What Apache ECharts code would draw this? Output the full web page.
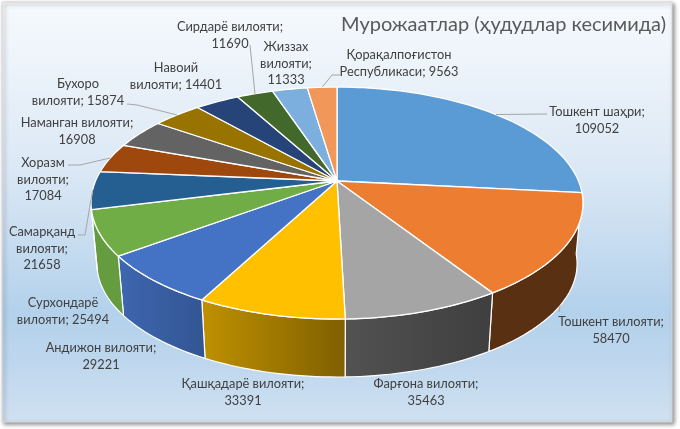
<!DOCTYPE html>
<html><head><meta charset="utf-8">
<style>html,body{margin:0;padding:0;background:#fff}#c{width:680px;height:429px}</style>
<script src="https://cdn.jsdelivr.net/npm/echarts@6/dist/echarts.min.js"></script>
</head><body><div id="c"></div>
<script>
const categories = ["Тошкент шаҳри","Тошкент вилояти","Фарғона вилояти","Қашқадарё вилояти","Андижон вилояти","Сурхондарё вилояти","Самарқанд вилояти","Хоразм вилояти","Наманган вилояти","Бухоро вилояти","Навоий вилояти","Сирдарё вилояти","Жиззах вилояти","Қорақалпоғистон Республикаси"];
const values = [109052,58470,35463,33391,29221,25494,21658,17084,16908,15874,14401,11690,11333,9563];
const colors = ["#5B9BD5","#ED7D31","#A5A5A5","#FFC000","#4472C4","#70AD47","#255E91","#9E480E","#636363","#997300","#264478","#43682B","#7CAFDD","#F1975A"];
const titleText = "Мурожаатлар (ҳудудлар кесимида)";
// label layout: text centre, words per line, optional elbow of the leader line
const labelX = [597,611,426,243,101,63,42,43,77,78,176,230,286,399];
const labelY = [112,322,384,384,348,303,232,163,123,84,68,27,47,55];
const labelLines = [[2,1],[2,1],[2,1],[2,1],[2,1],[1,2],[1,1,1],[1,1,1],[2,1],[1,2],[1,2],[2,1],[1,1,1],[1,2]];
const leaderFrom = [[547,114],[559,312],null,null,null,null,[78,235],[68,165],null,[127,104],null,[250,45],null,[340,75]];
const leaderElbow = [null,null,null,null,null,null,[85,235],[80,165],null,[137,105],null,null,null,[332,75]];

const total = values.reduce((a,b)=>a+b,0);
const cum = []; values.reduce((s,v,i)=>(cum[i]=s,s+v),0);
const FONT = 'Lato, "Open Sans", sans-serif';
const CX=337, CY=181, A=241.5, B=111.8, K=0.19, BY=242.3, BS=0.976;
const rad=d=>d*Math.PI/180;
const topPt=t=>{const u=Math.sin(t),v=Math.cos(t),w=1+K*v;return [CX+A*u/w,CY-B*v/w];};
const botPt=t=>{const u=Math.sin(t),v=Math.cos(t),w=1+K*v;return [CX+BS*A*u/w,BY-BS*B*v/w];};
const FRONT0=rad(96), FRONT1=rad(256);
function shade(x){const P=[[120,.9],[202,.75],[345,.5],[490,.38],[700,.38]];
  if(x<=P[0][0])return P[0][1];
  for(let i=1;i<P.length;i++) if(x<=P[i][0]) return P[i-1][1]+(P[i][1]-P[i-1][1])*(x-P[i-1][0])/(P[i][0]-P[i-1][0]);
  return .38;}
function dark(hex,f){const n=parseInt(hex.slice(1),16);return `rgb(${Math.round((n>>16&255)*f)},${Math.round((n>>8&255)*f)},${Math.round((n&255)*f)})`;}
function range(i){const a=cum[i]/total*2*Math.PI,b=(cum[i]+values[i])/total*2*Math.PI;return [a,b];}
function arc(a,b,fn){const n=Math.max(2,Math.ceil((b-a)/rad(1.5)));const o=[];for(let k=0;k<=n;k++)o.push(fn(a+(b-a)*k/n));return o;}

function renderTop(p,api){const i=p.dataIndex,[a,b]=range(i);
  return {type:'polygon',shape:{points:[[CX,CY]].concat(arc(a,b,topPt))},
    style:{fill:colors[i],stroke:'#fff',lineWidth:1.3,lineJoin:'round'}};}
function renderWall(p,api){const i=p.dataIndex;let [a,b]=range(i);
  a=Math.max(a,FRONT0);b=Math.min(b,FRONT1);if(b<=a)return null;
  const t=arc(a,b,topPt),d=arc(a,b,botPt).reverse();const pts=t.concat(d);
  const xs=pts.map(q=>q[0]),x0=Math.min(...xs),x1=Math.max(...xs);
  const stops=[0,.25,.5,.75,1].map(o=>({offset:o,color:dark(colors[i],shade(x0+(x1-x0)*o))}));
  return {type:'polygon',shape:{points:pts},
    style:{fill:new echarts.graphic.LinearGradient(0,0,1,0,stops),stroke:'#fff',lineWidth:1.2,lineJoin:'round'}};}
function renderLabel(p,api){const i=p.dataIndex;
  const words=(categories[i]+"; "+api.value(0)).split(" ");let o=0;
  const text=labelLines[i].map(n=>{const s=words.slice(o,o+n).join(" ");o+=n;return s;}).join("\n");
  const ch=[{type:'text',style:{text,x:labelX[i],y:labelY[i]-8,align:'center',verticalAlign:'top',
    font:'12.8px '+FONT,fill:'#404040',lineHeight:16.5}}];
  if(leaderFrom[i]){const [a,b]=range(i);const m=(a+b)/2;
    const end=(m>FRONT0&&m<FRONT1)?botPt(m):topPt(m);
    const pts=[leaderFrom[i]];if(leaderElbow[i])pts.push(leaderElbow[i]);pts.push(end);
    ch.push({type:'polyline',shape:{points:pts},style:{fill:'none',stroke:'#a6a6a6',lineWidth:1}});}
  return {type:'group',children:ch};}

const data=values.map(v=>[v]);
const chart=echarts.init(document.getElementById('c'));
chart.setOption({animation:false,
  graphic:[
   {type:'rect',z:-1,shape:{x:2,y:2,width:670,height:420},
    style:{fill:new echarts.graphic.LinearGradient(0,0,0,1,[
      {offset:0,color:'#f7fafd'},{offset:.4,color:'#dbe8f5'},{offset:.74,color:'#b3d1eb'},{offset:.85,color:'#bdd6ed'},{offset:1,color:'#d0e1f1'}]),
      stroke:'#d9d9d9',lineWidth:1,shadowColor:'rgba(0,0,0,.45)',shadowBlur:4,shadowOffsetX:2,shadowOffsetY:2}},
   {type:'text',z:5,style:{text:titleText,x:666,y:25,align:'right',verticalAlign:'middle',font:'20px '+FONT,fill:'#595959'}}
  ],
  series:[
   {type:'custom',coordinateSystem:'none',silent:true,z:2,data,renderItem:renderWall},
   {type:'custom',coordinateSystem:'none',silent:true,z:3,data,renderItem:renderTop},
   {type:'custom',coordinateSystem:'none',silent:true,z:4,data,renderItem:renderLabel}
  ]});
</script></body></html>
